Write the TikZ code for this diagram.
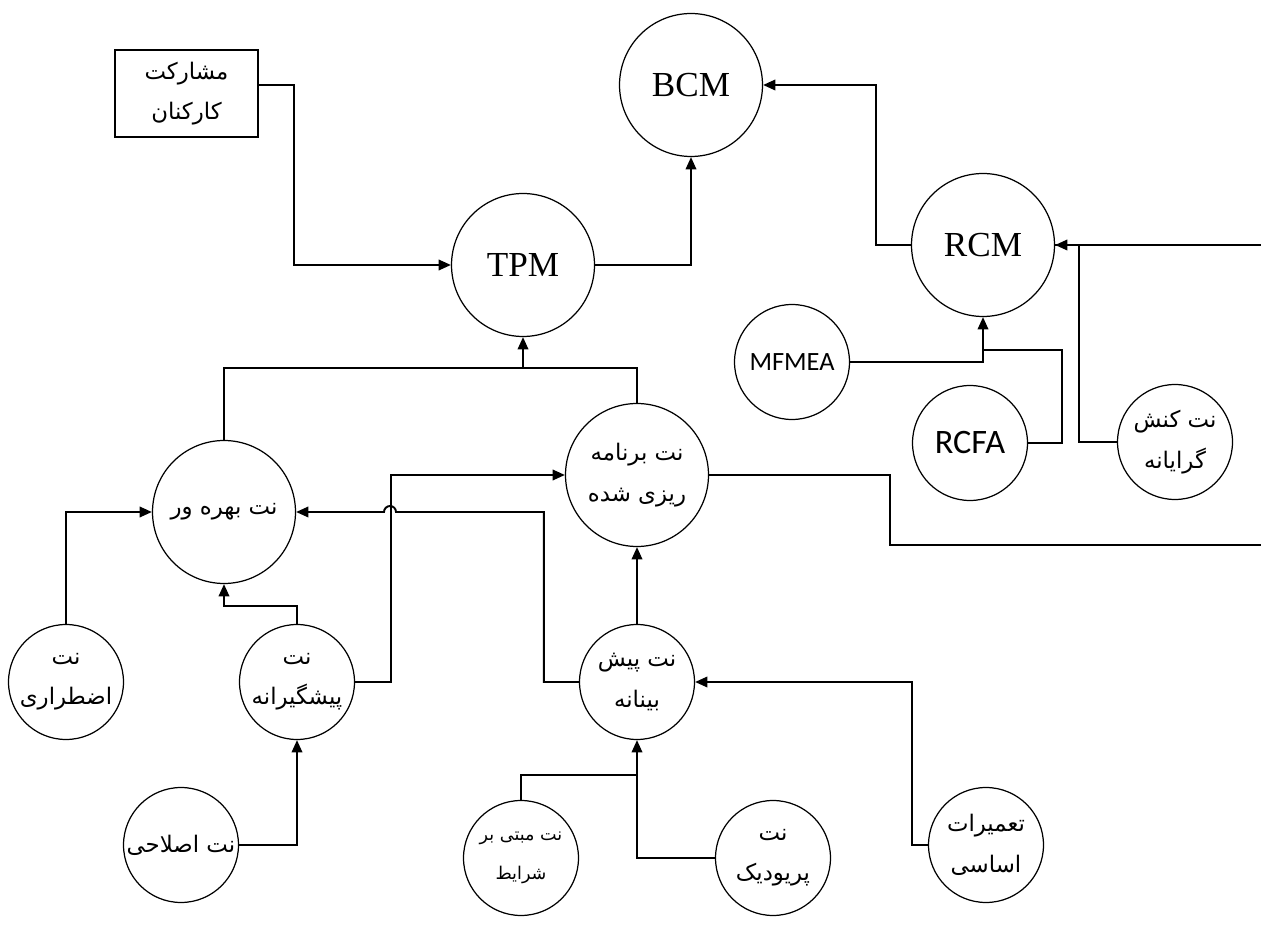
\documentclass[tikz,border=0pt]{standalone}
\usepackage{fontspec}
\setmainfont{Liberation Serif}
\newfontfamily\fa[Script=Arabic]{DejaVu Sans}
\newfontfamily\calfont{Carlito}
\TeXXeTstate=1
\usetikzlibrary{arrows.meta,calc}
\newcommand\pl[1]{\beginR #1\endR}
\begin{document}
\begin{tikzpicture}[x=0.02cm,y=-0.02cm,
  shp/.style={draw,line width=0.7pt,inner sep=0pt,align=center},
  big/.style={shp,circle,minimum size=2.86cm,font=\fontsize{20}{24}\selectfont},
  small/.style={shp,circle,minimum size=2.3cm,font=\fa\fontsize{13}{23}\selectfont},
  bigfa/.style={big,font=\fa\fontsize{13}{23}\selectfont},
  conn/.style={line width=1.1pt},
  arr/.style={conn,-{Triangle[length=7pt,width=6pt]}}]
\useasboundingbox (0,0) rectangle (1261,928);
% nodes
\node[shp,rectangle,minimum width=2.86cm,minimum height=1.74cm,font=\fa\fontsize{13}{23}\selectfont] (mosha) at (186.5,93.5) {\pl{مشارکت}\\\pl{کارکنان}};
\node[big] (bcm) at (691,85) {BCM};
\node[big] (tpm) at (523,265) {TPM};
\node[big] (rcm) at (983,245) {RCM};
\node[small,font=\calfont\fontsize{15}{18}\selectfont] (mfmea) at (792,362) {MFMEA};
\node[small,font=\calfont\fontsize{19.5}{24}\selectfont] (rcfa) at (970,443) {RCFA};
\node[small] (konesh) at (1175,442) {\pl{نت کنش}\\\pl{گرایانه}};
\node[bigfa] (barname) at (637,475) {\pl{نت برنامه}\\\pl{ریزی شده}};
\node[bigfa] (bahre) at (224,512) {\pl{نت بهره ور}};
\node[small] (ezterari) at (66,682) {\pl{نت}\\\pl{اضطراری}};
\node[small] (pishgir) at (297,682) {\pl{نت}\\\pl{پیشگیرانه}};
\node[small] (pishbin) at (637,682) {\pl{نت  پیش}\\\pl{بینانه}};
\node[small] (eslahi) at (181,845) {\pl{نت اصلاحی}};
\node[small,font=\fa\fontsize{10}{22}\selectfont] (mabni) at (521,858) {\pl{نت مبتی بر}\\\pl{شرایط}};
\node[small] (period) at (773,858) {\pl{نت}\\\pl{پریودیک}};
\node[small] (tamirat) at (986,845) {\pl{تعمیرات}\\\pl{اساسی}};
% free ends and junctions
\coordinate (e1) at (1261,245);
\coordinate (e2) at (1261,545);
\coordinate (j1) at (983,350);
\coordinate (j2) at (890,545);
\coordinate (j3) at (523,368);
\coordinate (hr) at (396,512);
\coordinate (j6) at (637,775);
% connectors
\draw[arr] (mosha.east |- bcm) -- ++(35,0) |- (tpm);
\draw[arr] (tpm) -| (bcm);
\draw[arr] (rcm.west) -- ++(-35,0) |- (bcm);
\draw[arr] (mfmea) -| (rcm);
\draw[conn] (rcfa.east) -- ++(34,0) |- (j1);
\draw[arr] (e1) -- (rcm);
\draw[conn] (konesh.west) -- ++(-38,0) |- (rcm.east);
\draw[conn] (barname.east) -| (j2) -- (e2);
\draw[conn] (bahre.north) |- (j3) -| (barname.north);
\draw[arr] (j3) -- (tpm);
\draw[arr] (ezterari) |- (bahre);
\draw[arr] (pishgir.north) -- ++(0,-18) -| (bahre.south);
\draw[arr] (pishgir.east) -- ++(36,0) |- (barname);
\draw[arr] (pishbin.west) -- ++(-35,0) |- (hr) arc[start angle=0,end angle=180,radius=0.12cm] -- (bahre);
\draw[arr] (pishbin) -- (barname);
\draw[arr] (eslahi.east) -| (pishgir.south);
\draw[conn] (mabni.north) |- (j6);
\draw[conn] (period.west) -| (j6);
\draw[arr] (j6) -- (pishbin);
\draw[arr] (tamirat.west) -- ++(-16,0) |- (pishbin);
\end{tikzpicture}
\end{document}
